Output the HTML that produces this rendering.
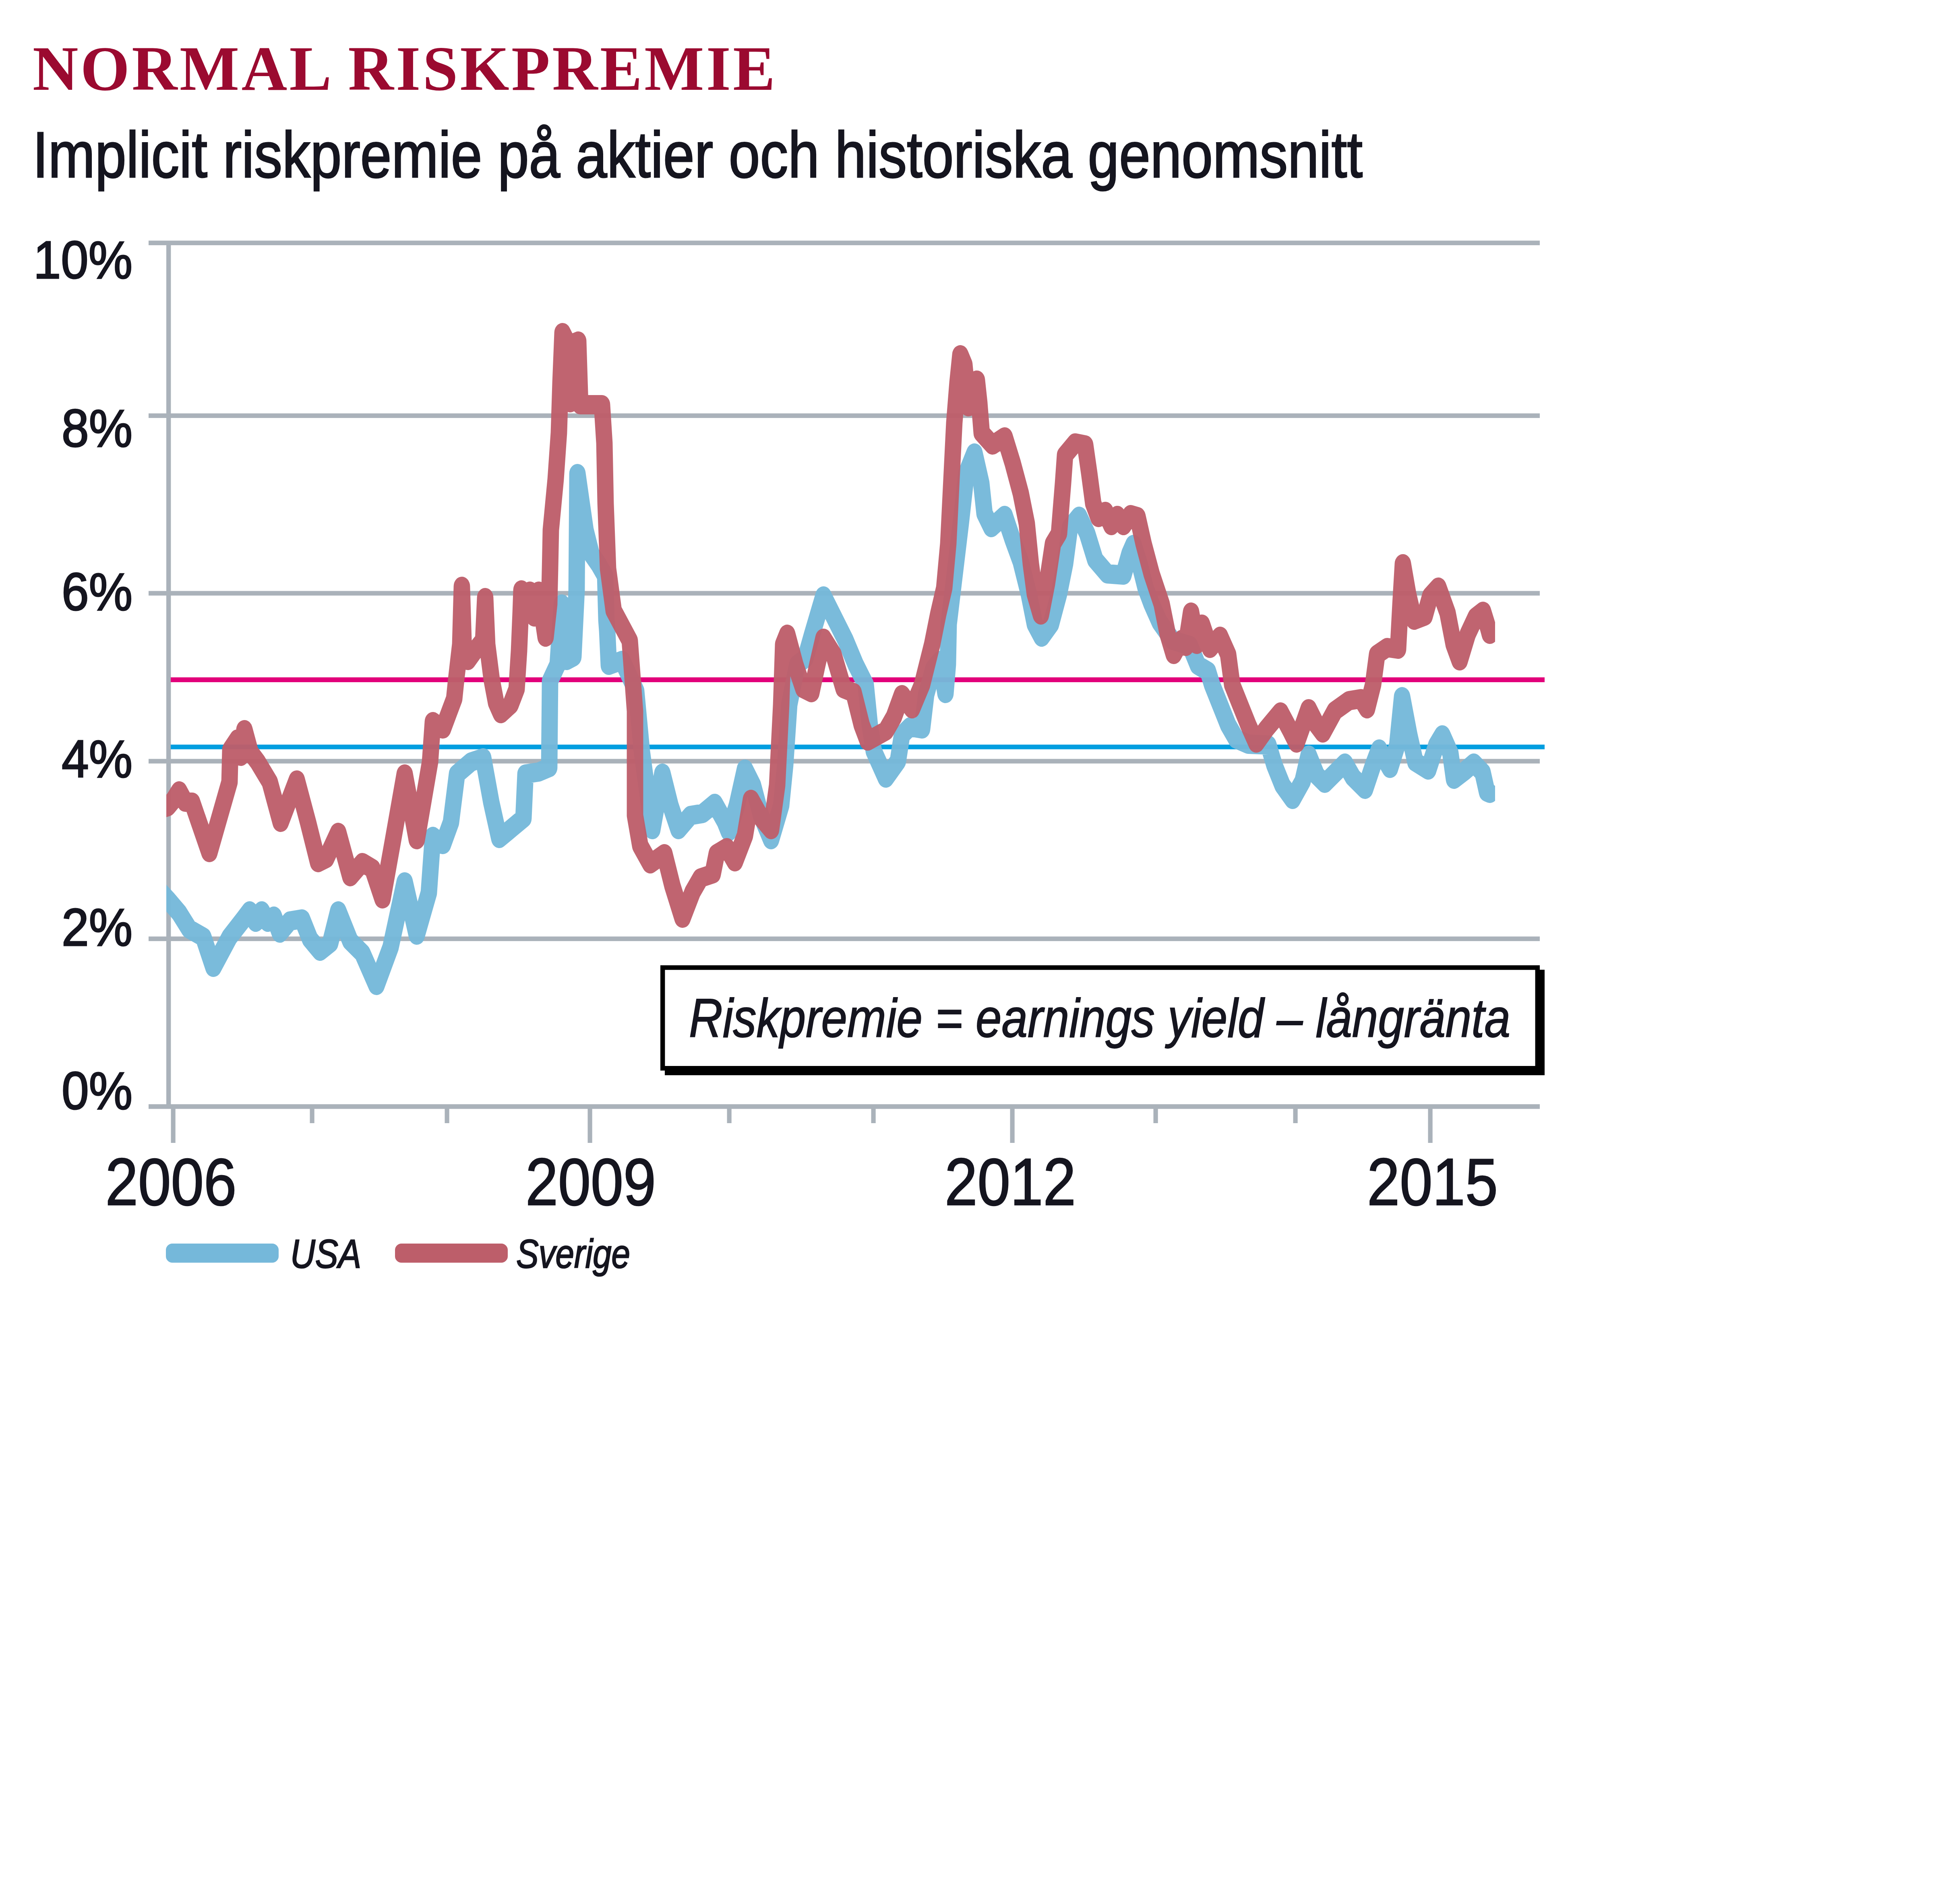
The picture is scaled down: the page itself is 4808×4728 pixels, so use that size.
<!DOCTYPE html>
<html lang="sv"><head><meta charset="utf-8"><title>Normal riskpremie</title>
<style>html,body{margin:0;padding:0;background:#fff}svg{display:block}</style></head>
<body>
<svg width="4808" height="4728" viewBox="0 0 4808 4728">
<rect width="4808" height="4728" fill="#fff"/>
<rect x="369" y="597.5" width="3455" height="11.4" fill="#aab2ba"/>
<rect x="369" y="1026.5" width="3455" height="11.4" fill="#aab2ba"/>
<rect x="369" y="1467.5" width="3455" height="11.4" fill="#aab2ba"/>
<rect x="369" y="1884.5" width="3455" height="11.4" fill="#aab2ba"/>
<rect x="369" y="2325.5" width="3455" height="11.4" fill="#aab2ba"/>
<rect x="369" y="2742" width="3455" height="11.6" fill="#aab2ba"/>
<rect x="413" y="598" width="11.4" height="2150" fill="#aab2ba"/>
<rect x="424.5" y="2748" width="11.2" height="90" fill="#aab2ba"/>
<rect x="769.5" y="2748" width="11.2" height="41" fill="#aab2ba"/>
<rect x="1104.5" y="2748" width="11.2" height="41" fill="#aab2ba"/>
<rect x="1459.5" y="2748" width="11.2" height="90" fill="#aab2ba"/>
<rect x="1805.5" y="2748" width="11.2" height="41" fill="#aab2ba"/>
<rect x="2163.5" y="2748" width="11.2" height="41" fill="#aab2ba"/>
<rect x="2508.5" y="2748" width="11.2" height="90" fill="#aab2ba"/>
<rect x="2864.5" y="2748" width="11.2" height="41" fill="#aab2ba"/>
<rect x="3211.5" y="2748" width="11.2" height="41" fill="#aab2ba"/>
<rect x="3546.5" y="2748" width="11.2" height="90" fill="#aab2ba"/>
<rect x="424" y="1682" width="3412" height="12" fill="#e2007a"/>
<rect x="424" y="1849" width="3412" height="11.6" fill="#009ee0"/>
<clipPath id="plot"><rect x="413" y="598" width="3300" height="2150"/></clipPath>
<g clip-path="url(#plot)"><g transform="scale(0.85,1)">
<polyline points="464.7,2210 490.6,2234 523.5,2267 552.9,2307 594.1,2327 623.5,2402 670.6,2327 711.8,2282 729.4,2262 747.1,2290 764.7,2262 782.4,2290 800.0,2275 817.6,2317 847.1,2287 882.4,2282 905.9,2332 935.3,2362 964.7,2342 988.2,2262 1023.5,2337 1058.8,2367 1100.0,2447 1141.2,2352 1182.4,2190 1217.6,2322 1252.9,2217 1264.7,2077 1294.1,2097 1317.6,2042 1335.3,1922 1376.5,1892 1411.8,1882 1435.3,1992 1458.8,2082 1494.1,2057 1529.4,2032 1535.3,1922 1574.1,1917 1604.7,1906 1607.1,1691 1629.4,1650 1641.2,1500 1655.3,1640 1675.3,1631 1684.7,1466 1687.1,1176 1710.6,1316 1728.2,1376 1749.4,1402 1768.2,1430 1771.8,1540 1774.1,1566 1778.8,1652 1817.6,1640 1858.8,1716 1875.3,1866 1905.9,2060 1935.3,1920 1958.8,2000 1982.4,2060 2017.6,2025 2052.9,2020 2088.2,1995 2117.6,2040 2129.4,2065 2152.9,2000 2176.5,1910 2200.0,1950 2223.5,2025 2252.9,2085 2282.4,2000 2294.1,1900 2305.9,1750 2329.4,1650 2352.9,1635 2372.9,1575 2405.9,1480 2435.3,1530 2470.6,1590 2500.0,1650 2529.4,1700 2541.2,1800 2552.9,1865 2588.2,1932 2623.5,1890 2635.3,1825 2658.8,1805 2694.1,1810 2705.9,1725 2727.1,1660 2747.1,1640 2762.4,1722 2769.4,1650 2771.8,1550 2785.9,1450 2807.1,1300 2823.5,1175 2847.1,1125 2867.1,1200 2876.5,1275 2896.5,1310 2935.3,1280 2958.8,1340 2982.4,1395 3005.9,1475 3023.5,1550 3043.5,1582 3070.6,1550 3094.1,1475 3111.8,1400 3125.9,1310 3152.9,1282 3176.5,1325 3200.0,1390 3235.3,1425 3282.4,1428 3300.0,1375 3311.8,1352 3329.4,1400 3347.1,1460 3364.7,1500 3388.2,1545 3425.9,1590 3476.5,1603 3500.0,1652 3529.4,1667 3541.2,1700 3564.7,1750 3588.2,1800 3611.8,1835 3647.1,1848 3705.9,1850 3723.5,1900 3747.1,1950 3776.5,1985 3805.9,1940 3823.5,1875 3847.1,1925 3870.6,1945 3900.0,1920 3929.4,1895 3952.9,1930 3988.2,1960 4011.8,1900 4029.4,1860 4061.2,1908 4082.4,1850 4096.5,1730 4117.6,1825 4135.3,1892 4172.9,1912 4196.5,1850 4214.1,1825 4237.6,1870 4248.2,1935 4278.8,1915 4305.9,1895 4331.8,1918 4344.7,1967 4352.9,1970" fill="none" stroke="#75b8da" stroke-width="48" stroke-linejoin="round" stroke-linecap="round" opacity="0.96"/>
<polyline points="464.7,2010 490.6,2003 508.2,1985 523.5,1964 541.2,1992 561.2,1992 611.8,2117 670.6,1942 672.9,1862 694.1,1835 703.5,1878 714.1,1812 731.8,1868 752.9,1892 788.2,1942 820.0,2042 867.1,1937 900.0,2042 929.4,2142 952.9,2132 988.2,2067 1023.5,2177 1058.8,2142 1088.2,2157 1117.6,2232 1147.1,2092 1182.4,1922 1217.6,2085 1256.5,1892 1264.7,1792 1294.1,1810 1327.1,1735 1332.9,1687 1344.7,1600 1349.4,1456 1355.3,1620 1367.1,1640 1388.2,1615 1411.8,1590 1417.6,1484 1423.5,1600 1436.5,1687 1449.4,1745 1463.5,1772 1491.8,1750 1509.4,1711 1516.5,1616 1521.2,1520 1523.5,1465 1536.5,1525 1548.2,1468 1561.2,1532 1574.1,1468 1594.1,1582 1604.7,1500 1607.1,1412 1609.4,1316 1623.5,1190 1632.9,1075 1637.6,950 1643.5,826 1656.5,848 1665.9,1000 1675.3,852 1689.4,847 1695.3,1005 1758.8,1005 1765.9,1100 1769.4,1250 1776.5,1412 1792.9,1516 1840.0,1591 1855.3,1766 1855.3,2025 1870.6,2100 1900.0,2145 1941.2,2120 1964.7,2200 1994.1,2280 2023.5,2215 2047.1,2180 2082.4,2170 2094.1,2120 2123.5,2105 2147.1,2140 2176.5,2075 2194.1,1985 2223.5,2030 2252.9,2060 2270.6,1950 2282.4,1750 2288.2,1600 2300.0,1575 2323.5,1650 2347.1,1710 2370.6,1720 2388.2,1650 2405.9,1585 2435.3,1625 2464.7,1710 2494.1,1720 2517.6,1800 2535.3,1840 2588.2,1815 2611.8,1780 2635.3,1725 2664.7,1760 2694.1,1700 2723.5,1600 2741.2,1525 2758.8,1460 2770.6,1350 2776.5,1250 2788.2,1050 2797.6,950 2805.9,881 2817.6,905 2829.4,1010 2844.7,950 2854.1,944 2861.2,1000 2868.2,1075 2900.0,1105 2935.3,1085 2958.8,1150 2982.4,1225 3000.0,1300 3011.8,1400 3023.5,1475 3041.2,1527 3058.8,1450 3076.5,1350 3094.1,1325 3105.9,1200 3111.8,1130 3141.2,1100 3170.6,1105 3182.4,1175 3194.1,1250 3209.4,1285 3229.4,1270 3247.1,1305 3264.7,1280 3282.4,1305 3303.5,1278 3323.5,1283 3341.2,1350 3364.7,1425 3394.1,1500 3411.8,1575 3429.4,1625 3452.9,1588 3464.7,1605 3480.0,1520 3496.5,1600 3511.8,1550 3535.3,1610 3564.7,1580 3588.2,1625 3600.0,1700 3623.5,1750 3647.1,1800 3670.6,1845 3700.0,1810 3741.2,1768 3770.6,1815 3788.2,1845 3823.5,1760 3847.1,1800 3864.7,1820 3900.0,1765 3941.2,1740 3976.5,1735 3994.1,1760 4011.8,1700 4023.5,1625 4052.9,1608 4084.7,1612 4091.8,1500 4098.8,1400 4114.1,1475 4131.8,1540 4162.4,1530 4178.8,1480 4202.4,1458 4229.4,1522 4247.1,1600 4264.7,1641 4288.2,1575 4311.8,1532 4332.9,1518 4348.2,1560 4352.9,1575" fill="none" stroke="#bd5e6a" stroke-width="48" stroke-linejoin="round" stroke-linecap="round" opacity="0.96"/>
</g></g>
<rect x="1651" y="2408" width="2185" height="262" fill="#000"/>
<rect x="1645.7" y="2402.7" width="2172.6" height="250" fill="#fff" stroke="#000" stroke-width="11.4"/>
<text x="1711" y="2575" font-family="'Liberation Sans', sans-serif" font-style="italic" font-size="135" fill="#15151f" stroke="#15151f" stroke-width="2" textLength="2040" lengthAdjust="spacingAndGlyphs">Riskpremie = earnings yield – långränta</text>
<text x="81" y="223" font-family="'Liberation Serif', serif" font-weight="bold" font-size="157" fill="#9b0a30" textLength="1844" lengthAdjust="spacing">NORMAL RISKPREMIE</text>
<text x="81" y="440" font-family="'Liberation Sans', sans-serif" font-size="162" fill="#15151f" stroke="#15151f" stroke-width="3" textLength="3303" lengthAdjust="spacingAndGlyphs">Implicit riskpremie på aktier och historiska genomsnitt</text>
<text x="83" y="691" font-family="'Liberation Sans', sans-serif" font-size="131" fill="#15151f" stroke="#15151f" stroke-width="3" textLength="246" lengthAdjust="spacingAndGlyphs">10%</text>
<text x="153" y="1109" font-family="'Liberation Sans', sans-serif" font-size="131" fill="#15151f" stroke="#15151f" stroke-width="3" textLength="176" lengthAdjust="spacingAndGlyphs">8%</text>
<text x="153" y="1515" font-family="'Liberation Sans', sans-serif" font-size="131" fill="#15151f" stroke="#15151f" stroke-width="3" textLength="176" lengthAdjust="spacingAndGlyphs">6%</text>
<text x="153" y="1930" font-family="'Liberation Sans', sans-serif" font-size="131" fill="#15151f" stroke="#15151f" stroke-width="3" textLength="176" lengthAdjust="spacingAndGlyphs">4%</text>
<text x="153" y="2348" font-family="'Liberation Sans', sans-serif" font-size="131" fill="#15151f" stroke="#15151f" stroke-width="3" textLength="176" lengthAdjust="spacingAndGlyphs">2%</text>
<text x="153" y="2754" font-family="'Liberation Sans', sans-serif" font-size="131" fill="#15151f" stroke="#15151f" stroke-width="3" textLength="176" lengthAdjust="spacingAndGlyphs">0%</text>
<text x="261.6" y="2992" font-family="'Liberation Sans', sans-serif" font-size="166" fill="#15151f" stroke="#15151f" stroke-width="2.5" textLength="326.0" lengthAdjust="spacingAndGlyphs">2006</text>
<text x="1305" y="2992" font-family="'Liberation Sans', sans-serif" font-size="166" fill="#15151f" stroke="#15151f" stroke-width="2.5" textLength="324" lengthAdjust="spacingAndGlyphs">2009</text>
<text x="2346" y="2992" font-family="'Liberation Sans', sans-serif" font-size="166" fill="#15151f" stroke="#15151f" stroke-width="2.5" textLength="326" lengthAdjust="spacingAndGlyphs">2012</text>
<text x="3395" y="2992" font-family="'Liberation Sans', sans-serif" font-size="166" fill="#15151f" stroke="#15151f" stroke-width="2.5" textLength="325" lengthAdjust="spacingAndGlyphs">2015</text>
<rect x="412" y="3088" width="280" height="47.5" rx="16" ry="16" fill="#75b8da"/>
<rect x="981" y="3088" width="280" height="47.5" rx="16" ry="16" fill="#bd5e6a"/>
<text x="721" y="3148" font-family="'Liberation Sans', sans-serif" font-style="italic" font-size="100" fill="#15151f" stroke="#15151f" stroke-width="2.5" textLength="176" lengthAdjust="spacingAndGlyphs">USA</text>
<text x="1282" y="3148" font-family="'Liberation Sans', sans-serif" font-style="italic" font-size="100" fill="#15151f" stroke="#15151f" stroke-width="2.5" textLength="283" lengthAdjust="spacingAndGlyphs">Sverige</text>
</svg>
</body></html>
